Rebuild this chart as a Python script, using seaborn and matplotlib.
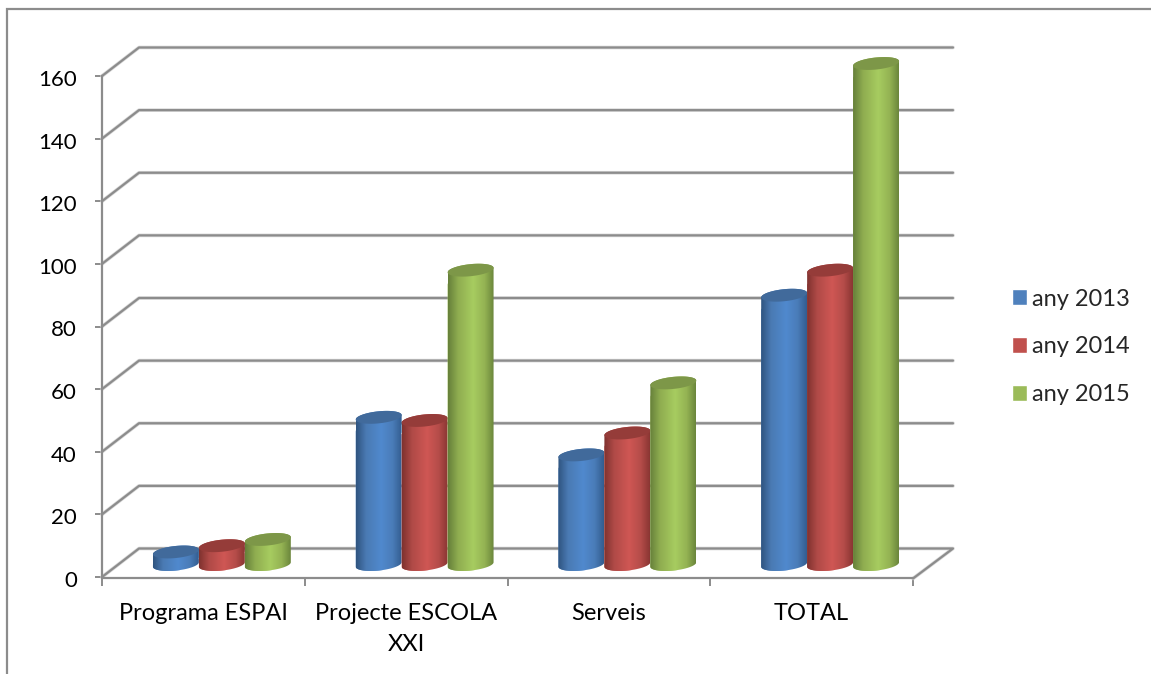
import numpy as np
import pandas as pd
import matplotlib
matplotlib.use("Agg")
import matplotlib.pyplot as plt
import seaborn as sns
from matplotlib.lines import Line2D
from matplotlib.path import Path
from matplotlib.patches import PathPatch
from matplotlib.transforms import IdentityTransform, ScaledTranslation
import matplotlib.patheffects as pe

categories = ["Programa ESPAI", "Projecte ESCOLA\nXXI", "Serveis", "TOTAL"]
series_names = ["any 2013", "any 2014", "any 2015"]
any_2013 = [4, 47, 35, 86]
any_2014 = [6, 46, 42, 94]
any_2015 = [8, 94, 58, 160]
y_ticks = [0, 20, 40, 60, 80, 100, 120, 140, 160]
base_colors = ["#4F81BD", "#C0504D", "#9BBB59"]
top_colors = ["#416A9B", "#953C39", "#7D9748"]
grad_stops = [["#2F5480", "#4A7AB3", "#5089CE", "#4A7CB8", "#335D90"],
              ["#7F322F", "#B04A47", "#CF5754", "#B54C49", "#8A3633"],
              ["#66803A", "#8FAD50", "#A7CC60", "#94B353", "#6B863C"]]

W, H = 1151, 674
GRID = "#8C8C8C"

sns.set_theme(style="white")
plt.rcParams["font.family"] = ["Lato", "DejaVu Sans"]
FS = 17
FS_Y = 16

fig = plt.figure(figsize=(W / 100, H / 100), dpi=100, facecolor="white")
ax = fig.add_axes([102 / W, (H - 577) / H, 811 / W, 501 / H])

df = pd.DataFrame({
    "cat": categories * 3,
    "serie": np.repeat(series_names, 4),
    "val": any_2013 + any_2014 + any_2015,
})
sns.barplot(data=df, x="cat", y="val", hue="serie", hue_order=series_names,
            palette=base_colors, width=0.68, gap=0, errorbar=None,
            saturation=1, ax=ax, zorder=3)
ax.set_xlim(-0.5, 3.5)
ax.set_ylim(0, 160)
ax.set_xlabel("")
ax.set_ylabel("")
ax.patch.set_alpha(0)

# Axes
for s in ("top", "right"):
    ax.spines[s].set_visible(False)
for s in ("left", "bottom"):
    ax.spines[s].set_color(GRID)
    ax.spines[s].set_linewidth(1.6)
ax.spines["bottom"].set_position(("outward", 1))
ax.set_yticks(y_ticks)
ax.set_xticks(range(4))
ax.set_xticklabels(categories)
ax.set_xticks(np.arange(-0.5, 4), minor=True)
ax.tick_params(axis="y", length=5, width=1.4, color=GRID, labelsize=FS_Y, labelcolor="black", pad=13, left=True)
ax.tick_params(axis="x", which="major", length=0, labelsize=FS, labelcolor="black", pad=18)
ax.tick_params(axis="x", which="minor", length=5.5, width=1.4, color=GRID, bottom=True)
for t in ax.get_xticklabels():
    t.set_linespacing(1.58)
    t.set_verticalalignment("top")
shift = ScaledTranslation(0, -2 / 100, fig.dpi_scale_trans)
for t in ax.get_yticklabels():
    t.set_transform(t.get_transform() + shift)

# 3D back wall
DX, DY = 37.0, 28.5
grid_fx = [pe.Stroke(linewidth=2.6, foreground="#D8D8D8"), pe.Normal()]
right_px = ax.transData.transform((3.5, 0))[0] + DX + 3
for v in y_ticks:
    p0 = ax.transData.transform((-0.5, v))
    xs = [p0[0], p0[0] + DX, right_px]
    ys = [p0[1], p0[1] + DY, p0[1] + DY]
    if v == 0:
        p1 = ax.transData.transform((3.5, 0))
        xs.append(p1[0])
        ys.append(p1[1] - 1.5)
    ln = Line2D(xs, ys, color=GRID, lw=1.6, transform=IdentityTransform(),
                zorder=1, clip_on=False, path_effects=grid_fx,
                solid_joinstyle="round")
    ax.add_line(ln)

# Cylinders built on the bars from seaborn
OX, OY = 18.5, 12.5
B = 6.0
ROT = np.deg2rad(6.0)


def ell(cx, cy, a, b, t):
    ux, uy = a * np.cos(t), b * np.sin(t)
    return cx + ux * np.cos(ROT) - uy * np.sin(ROT), cy + ux * np.sin(ROT) + uy * np.cos(ROT)


def gradient(stops):
    pos = np.array([0, 0.22, 0.55, 0.8, 1.0])
    cols = np.array([matplotlib.colors.to_rgb(c) for c in stops])
    xx = np.linspace(0, 1, 128)
    return np.dstack([np.interp(xx, pos, cols[:, i]) for i in range(3)]).reshape(1, 128, 3)


bars = list(ax.patches)
n_cat = len(categories)
for i, p in enumerate(bars[:n_cat * 3]):
    s = i // n_cat
    (x0, y0) = ax.transData.transform((p.get_x(), 0))
    (x1, y1) = ax.transData.transform((p.get_x() + p.get_width(), p.get_height()))
    x0 += OX
    x1 += OX
    y0 += OY
    y1 += OY
    cx = (x0 + x1) / 2
    a = (x1 - x0) / 2 / np.cos(ROT)
    z = 3 + i * 0.01 + s
    t_low = np.linspace(np.pi, 2 * np.pi, 50)
    t_up = np.linspace(0, np.pi, 50)
    bx, by = ell(cx, y0, a, B, t_low)
    tx, ty = ell(cx, y1, a, B, t_up)
    body = PathPatch(Path(np.column_stack([np.r_[bx, tx], np.r_[by, ty]])),
                     transform=IdentityTransform(), fc="none", ec="none")
    ax.add_patch(body)
    body.set_clip_on(False)
    p.set_zorder(z)
    p.set_clip_path(body)
    p.set_clip_box(fig.bbox)
    im = ax.imshow(gradient(grad_stops[s]), extent=(x0, x1, by.min(), ty.max()),
                   aspect="auto", transform=IdentityTransform(), zorder=z + 0.001,
                   interpolation="bilinear")
    im.set_clip_box(fig.bbox)
    im.set_clip_path(body)
    ex, ey = ell(cx, y1, a, B, np.linspace(0, 2 * np.pi, 100))
    top = PathPatch(Path(np.column_stack([ex, ey])), transform=IdentityTransform(),
                    fc=top_colors[s], ec="none", zorder=z + 0.002, clip_on=False)
    ax.add_patch(top)

ax.set_xlim(-0.5, 3.5)
ax.set_ylim(0, 160)

# Legend
sns.move_legend(ax, "upper left", bbox_to_anchor=(1012 / W, (H - 288.5) / H),
                bbox_transform=fig.transFigure, frameon=False, title=None,
                fontsize=FS, handlelength=0.635, handleheight=0.635,
                handletextpad=0.22, labelspacing=1.135, borderpad=0, borderaxespad=0)

# Chart frame
fig.add_artist(Line2D([6.5 / W, 6.5 / W, 1], [0, (H - 9) / H, (H - 9) / H],
                      color=GRID, lw=1.6, transform=fig.transFigure,
                      solid_joinstyle="miter"))

fig.savefig("out.png", dpi=100, facecolor="white")
